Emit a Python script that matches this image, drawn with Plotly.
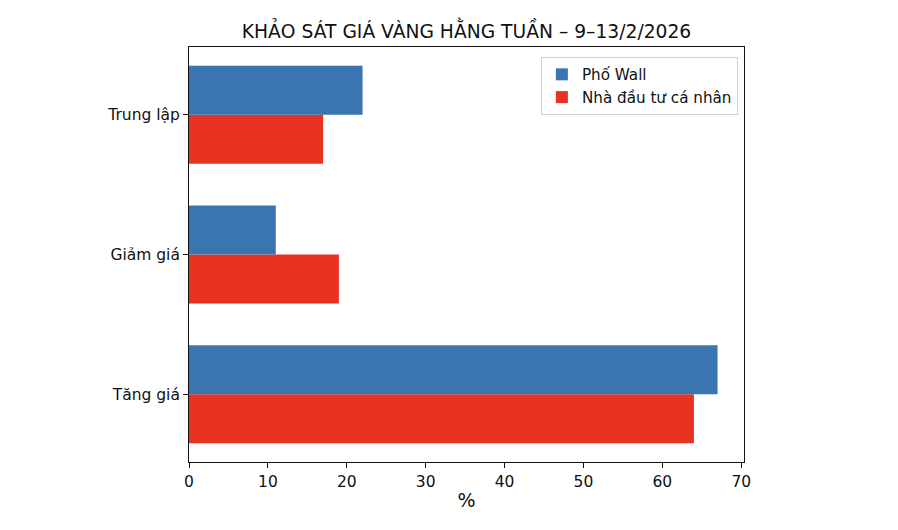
import plotly.graph_objects as go

categories = ["Tăng giá", "Giảm giá", "Trung lập"]
pho_wall = [67, 11, 22]
ca_nhan = [64, 19, 17]

blue = "#3b75af"
red = "#e83323"
font = "DejaVu Sans"

fig = go.Figure()
# red first so it sits below the blue bar in each group
fig.add_trace(go.Bar(y=categories, x=ca_nhan, orientation="h",
                     name="Nhà đầu tư cá nhân", marker=dict(color=red, line=dict(width=0))))
fig.add_trace(go.Bar(y=categories, x=pho_wall, orientation="h",
                     name="Phố Wall", marker=dict(color=blue, line=dict(width=0))))

# page has an 8px body margin, so margins are shifted to compensate
fig.update_layout(
    width=898, height=530,
    margin=dict(l=181, r=162, t=39, b=76),
    paper_bgcolor="white", plot_bgcolor="white",
    font=dict(family=font, size=15.5, color="#111"),
    title=dict(text="KHẢO SÁT GIÁ VÀNG HẰNG TUẦN – 9–13/2/2026",
               x=458.5 / 898, xanchor="center", y=1 - 23 / 530, yanchor="middle",
               font=dict(size=18.7, color="#111")),
    barmode="group", bargap=0.3, bargroupgap=0,
    showlegend=True,
    legend=dict(x=0.989, xanchor="right", y=0.976, yanchor="top",
                traceorder="reversed", bgcolor="white",
                bordercolor="#d0d0d0", borderwidth=1,
                font=dict(size=15.2), itemwidth=30, tracegroupgap=0),
)
fig.update_xaxes(range=[0, 70.35], dtick=10, ticks="outside", ticklen=5,
                 tickcolor="#111", showline=True, linecolor="#111", linewidth=1,
                 mirror=True, showgrid=False, zeroline=False,
                 title=dict(text="%", standoff=4), tickfont=dict(size=15.5))
fig.update_yaxes(range=[-0.485, 2.485], ticks="outside", ticklen=5,
                 tickcolor="#111", showline=True, linecolor="#111", linewidth=1,
                 mirror=True, showgrid=False, tickfont=dict(size=15.5))

fig.write_html("out.html")
